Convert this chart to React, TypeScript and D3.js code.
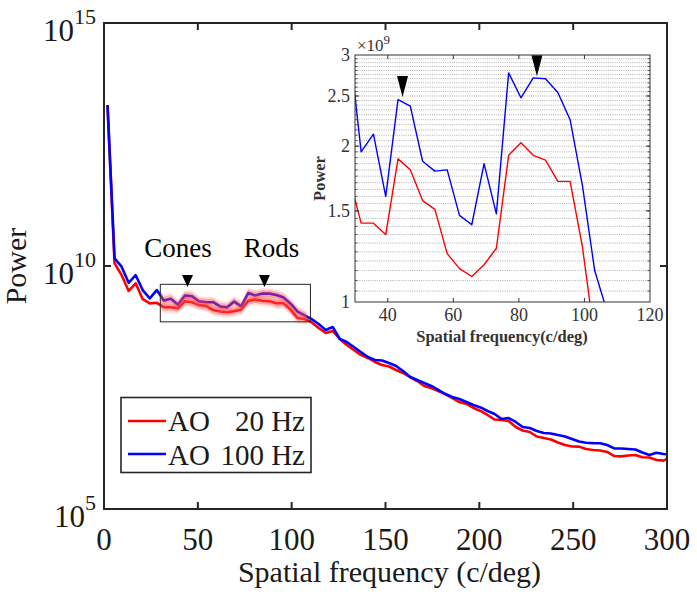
import * as d3 from 'd3';

// spectrum bins (c/deg): bin centres, bin width 3.75
const binWidth = 3.75;
const freqs = d3.range(81).map(k => binWidth * (k + 0.5));

// AO 20 Hz power
const power20 = [
  2.0e13, 1.14e10, 6.5e9, 3.06e9, 4.4e9, 2.07e9, 1.7e9, 1.75e9,
  1.42e9, 1.42e9, 1.35e9, 1.89e9, 1.80e9, 1.57e9, 1.51e9, 1.24e9,
  1.16e9, 1.12e9, 1.18e9, 1.27e9, 1.92e9, 2.03e9, 1.92e9, 1.88e9,
  1.71e9, 1.71e9, 1.28e9, 8.5e8, 8.1e8, 7.0e8, 5.3e8, 4.18e8,
  4.6e8, 3.15e8, 2.37e8, 1.87e8, 1.48e8, 1.28e8, 1.06e8, 9.2e7,
  8.55e7, 7.24e7, 6.29e7, 5.2e7, 4.3e7, 3.4e7, 3.09e7, 2.68e7,
  2.32e7, 1.92e7, 1.59e7, 1.45e7, 1.2e7, 1.04e7, 8.6e6, 6.95e6,
  6.78e6, 6.47e6, 4.87e6, 4.12e6, 3.84e6, 3.1e6, 2.89e6, 2.69e6,
  2.34e6, 2.07e6, 1.93e6, 1.92e6, 1.72e6, 1.64e6, 1.6e6, 1.49e6,
  1.23e6, 1.21e6, 1.26e6, 1.29e6, 1.16e6, 1.15e6, 1.02e6, 0.99e6,
  1.17e6,
];

// AO 100 Hz power
const power100 = [
  2.05e13, 1.44e10, 9.7e9, 4.5e9, 6.5e9, 3.2e9, 2.16e9, 3.2e9,
  1.95e9, 2.11e9, 1.60e9, 2.46e9, 2.39e9, 1.87e9, 1.79e9, 1.80e9,
  1.47e9, 1.41e9, 1.85e9, 1.48e9, 2.77e9, 2.48e9, 2.71e9, 2.70e9,
  2.54e9, 2.25e9, 1.68e9, 1.15e9, 9.6e8, 8.1e8, 6.4e8, 4.82e8,
  5.56e8, 3.15e8, 2.73e8, 2.15e8, 1.7e8, 1.34e8, 1.16e8, 1.14e8,
  1.01e8, 8.76e7, 6.91e7, 5.2e7, 4.51e7, 3.92e7, 3.4e7, 2.81e7,
  2.32e7, 2.02e7, 1.83e7, 1.59e7, 1.38e7, 1.23e7, 1.04e7, 9.0e6,
  7.11e6, 7.45e6, 6.17e6, 4.87e6, 4.64e6, 4.03e6, 3.66e6, 3.57e6,
  3.33e6, 3.1e6, 2.76e6, 2.45e6, 2.3e6, 2.27e6, 2.26e6, 2.07e6,
  1.77e6, 1.76e6, 1.72e6, 1.68e6, 1.45e6, 1.29e6, 1.44e6, 1.35e6,
  1.33e6,
];

const seriesNames = ['AO', 'AO'];
const seriesRates = ['20 Hz', '100 Hz'];
const seriesColors = ['#ff0000', '#0000ff'];

const xTicks = [0, 50, 100, 150, 200, 250, 300];
const yTicks = [1e5, 1e10, 1e15];
const insetXTicks = [40, 60, 80, 100, 120];
const insetYTicks = [1, 1.5, 2, 2.5, 3];
const arrowFreqs = [44.5, 85.5];

const FONT = "'Liberation Serif', 'Times New Roman', 'DejaVu Serif', serif";
const AXIS = '#262626';

export default function App() {
  const x = d3.scaleLinear().domain([0, 300]).range([104, 667]);
  const y = d3.scaleLog().domain([1e5, 1e15]).range([509, 23]);

  const xi = d3.scaleLinear().domain([30, 120]).range([355, 650]);
  const yi = d3.scaleLog().domain([1e9, 3e9]).range([302, 55]);

  const mainLine = d3.line<number>().x((_, i) => x(freqs[i])).y(d => y(d));
  const insetLine = d3.line<number>().x((_, i) => xi(freqs[i])).y(d => yi(d));
  const band = (w: number) =>
    d3.area<number>()
      .x((_, i) => x(freqs[i]))
      .y0(d => y(d) + w)
      .y1(d => y(d) - w);

  const series = [power20, power100];
  const gridVals = d3.range(1.05, 3.0, 0.05).map(v => v * 1e9);

  const tri = (cx: number, tip: number, w: number, h: number) =>
    `M${cx - w / 2},${tip - h}L${cx + w / 2},${tip - h}L${cx},${tip}Z`;

  return (
    <svg width={697} height={599}
      style={{ position: 'absolute', left: 0, top: 0, background: '#fff', fontFamily: FONT }}>
      <defs>
        <clipPath id="main-clip">
          <rect x={104} y={23} width={563} height={486} />
        </clipPath>
        <clipPath id="band-clip">
          <rect x={x(30)} y={23} width={x(108) - x(30)} height={486} />
        </clipPath>
        <clipPath id="inset-clip">
          <rect x={355} y={55} width={295} height={247} />
        </clipPath>
      </defs>

      {/* main curves */}
      <g clipPath="url(#main-clip)">
        {series.map((s, i) => (
          <path key={i} d={mainLine(s) ?? ''} fill="none" stroke={seriesColors[i]}
            strokeWidth={2.6} strokeLinejoin="round" />
        ))}
        <g clipPath="url(#band-clip)">
          {series.map((s, i) => (
            <g key={i}>
              <path d={band(5.5)(s) ?? ''} fill="#ff5a5a" opacity={0.2} />
              <path d={band(3.5)(s) ?? ''} fill="#ff4040" opacity={0.32} />
            </g>
          ))}
        </g>
      </g>

      {/* zoom box */}
      <rect x={x(30)} y={y(4.2e9)} width={x(110) - x(30)} height={y(7.1e8) - y(4.2e9)}
        fill="none" stroke={AXIS} strokeWidth={1} />
      {arrowFreqs.map((f, i) => (
        <path key={i} d={tri(x(f), y(3.7e9), 11, 12)} fill="#000" />
      ))}
      <text x={x(39.4)} y={257} fontSize={27} textAnchor="middle">Cones</text>
      <text x={x(89.3)} y={257} fontSize={27} textAnchor="middle">Rods</text>

      {/* main frame + ticks */}
      <rect x={104} y={23} width={563} height={486} fill="none" stroke={AXIS} strokeWidth={2} />
      {xTicks.slice(1, -1).map(t => (
        <g key={t} stroke={AXIS} strokeWidth={2}>
          <line x1={x(t)} x2={x(t)} y1={509} y2={502} />
          <line x1={x(t)} x2={x(t)} y1={23} y2={30} />
        </g>
      ))}
      {yTicks.slice(1, -1).map(t => (
        <g key={t} stroke={AXIS} strokeWidth={2}>
          <line x1={104} x2={111} y1={y(t)} y2={y(t)} />
          <line x1={667} x2={660} y1={y(t)} y2={y(t)} />
        </g>
      ))}
      {xTicks.map(t => (
        <text key={t} x={x(t)} y={550} fontSize={31} textAnchor="middle" fill="#1a1a1a">{t}</text>
      ))}
      {yTicks.map(t => (
        <text key={t} x={96} y={y(t) + 18} fontSize={31} textAnchor="end" fill="#1a1a1a">
          <tspan>10</tspan>
          <tspan dy={-17} fontSize={22}>{Math.round(Math.log10(t))}</tspan>
        </text>
      ))}
      <text x={389.5} y={582} fontSize={30} textAnchor="middle" fill="#1a1a1a">
        Spatial frequency (c/deg)
      </text>
      <text transform={`translate(26,${(23 + 509) / 2}) rotate(-90)`} fontSize={30}
        textAnchor="middle" fill="#1a1a1a">Power</text>

      {/* legend */}
      <rect x={121} y={397.5} width={190} height={75} fill="#fff" stroke={AXIS} strokeWidth={1.6} />
      {series.map((_, i) => (
        <g key={i}>
          <line x1={128} x2={166} y1={421 + i * 33} y2={421 + i * 33}
            stroke={seriesColors[i]} strokeWidth={2.6} />
          <text x={168} y={431 + i * 34} fontSize={29} fill="#1a1a1a">{seriesNames[i]}</text>
          <text x={305} y={431 + i * 34} fontSize={29} fill="#1a1a1a" textAnchor="end">{seriesRates[i]}</text>
        </g>
      ))}

      {/* inset */}
      <rect x={355} y={55} width={295} height={247} fill="#fff" />
      {gridVals.map((v, i) => (
        <line key={i} x1={355} x2={650} y1={yi(v)} y2={yi(v)}
          stroke="#9a9a9a" strokeWidth={0.8} strokeDasharray="1 1.2" />
      ))}
      <g clipPath="url(#inset-clip)">
        {series.map((s, i) => (
          <path key={i} d={insetLine(s) ?? ''} fill="none" stroke={seriesColors[i]}
            strokeWidth={1.4} strokeLinejoin="round" />
        ))}
      </g>
      <path d={tri(xi(arrowFreqs[0]), yi(2.49e9), 11, 21)} fill="#000" />
      <path d={tri(xi(arrowFreqs[1]), yi(2.73e9), 11, 21)} fill="#000" />
      <rect x={355} y={55} width={295} height={247} fill="none" stroke="#333" strokeWidth={1} />
      {insetXTicks.slice(0, -1).map(t => (
        <g key={t} stroke="#333" strokeWidth={1}>
          <line x1={xi(t)} x2={xi(t)} y1={302} y2={298} />
          <line x1={xi(t)} x2={xi(t)} y1={55} y2={59} />
        </g>
      ))}
      {gridVals.map((v, i) => (
        <g key={i} stroke="#333" strokeWidth={0.8}>
          <line x1={355} x2={357.5} y1={yi(v)} y2={yi(v)} />
          <line x1={650} x2={647.5} y1={yi(v)} y2={yi(v)} />
        </g>
      ))}
      {insetYTicks.slice(1, -1).map(t => (
        <g key={t} stroke="#333" strokeWidth={1}>
          <line x1={355} x2={359} y1={yi(t * 1e9)} y2={yi(t * 1e9)} />
          <line x1={650} x2={646} y1={yi(t * 1e9)} y2={yi(t * 1e9)} />
        </g>
      ))}
      {insetXTicks.map(t => (
        <text key={t} x={xi(t)} y={321} fontSize={18} textAnchor="middle" fill="#333">{t}</text>
      ))}
      {insetYTicks.map(t => (
        <text key={t} x={350} y={yi(t * 1e9) + 6} fontSize={18} textAnchor="end" fill="#333">{t}</text>
      ))}
      <text x={357} y={51} fontSize={17} fill="#333">
        <tspan>×10</tspan>
        <tspan dy={-7} fontSize={13}>9</tspan>
      </text>
      <text x={502} y={342} fontSize={16.5} fontWeight="bold" textAnchor="middle" fill="#333">
        Spatial frequency(c/deg)
      </text>
      <text transform={`translate(325,${(55 + 302) / 2}) rotate(-90)`} fontSize={16.5}
        fontWeight="bold" textAnchor="middle" fill="#333">Power</text>
    </svg>
  );
}
